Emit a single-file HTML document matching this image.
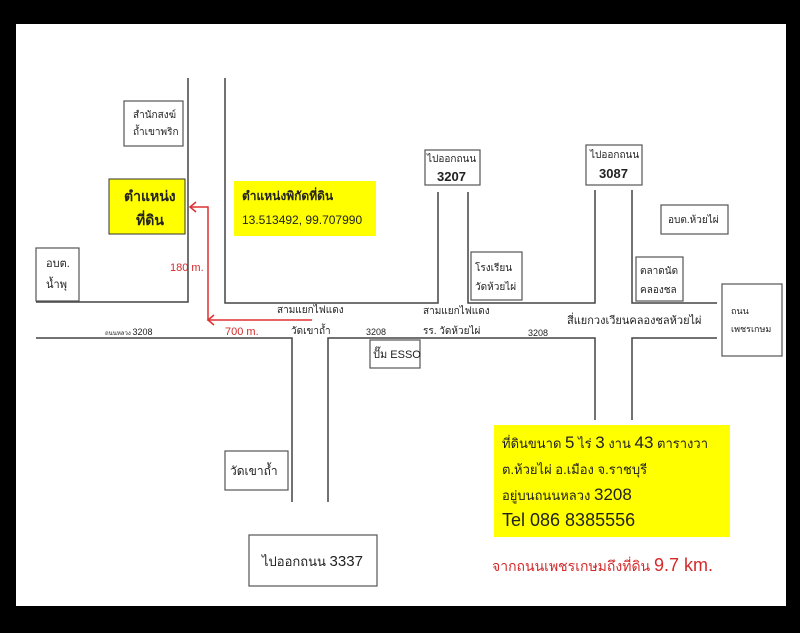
<!DOCTYPE html>
<html><head><meta charset="utf-8"><style>
body{margin:0;background:#000;}
svg{display:block;font-family:"Liberation Sans","Noto Sans CJK SC",sans-serif;}
</style></head><body>
<svg width="800" height="633" viewBox="0 0 800 633" xmlns="http://www.w3.org/2000/svg">
<rect x="0" y="0" width="800" height="633" fill="#000"/>
<rect x="16" y="24" width="770" height="582" fill="#fff"/>
<g stroke="#444" stroke-width="1.5" fill="none">
<polyline points="188,78 188,302 36,302"/>
<polyline points="225,78 225,303 438,303 438,192"/>
<polyline points="468,192 468,303 595,303 595,190"/>
<polyline points="632,190 632,303 717,303"/>
<polyline points="36,338 292,338 292,502"/>
<polyline points="328,502 328,338 595,338 595,420"/>
<polyline points="632,420 632,338 717,338"/>
</g>
<g stroke="#555" stroke-width="1.2" fill="#fff">
<rect x="124" y="101" width="59" height="45"/>
<rect x="36" y="248" width="43" height="53"/>
<rect x="425" y="150" width="55" height="35"/>
<rect x="586" y="145" width="56" height="40"/>
<rect x="661" y="205" width="67" height="29"/>
<rect x="471" y="252" width="51" height="48"/>
<rect x="636" y="257" width="47" height="44"/>
<rect x="722" y="284" width="60" height="72"/>
<rect x="370" y="340" width="50" height="28"/>
<rect x="225" y="451" width="63" height="39"/>
<rect x="249" y="535" width="128" height="51"/>
</g>
<rect x="109" y="179" width="76" height="55" fill="#ffff00" stroke="#333" stroke-width="1"/>
<rect x="234" y="181" width="142" height="55" fill="#ffff00"/>
<rect x="494" y="425" width="236" height="112" fill="#ffff00"/>
<g stroke="#e03030" stroke-width="1.5" fill="none">
<polyline points="312,320 208,320 208,207 190,207"/>
<polyline points="196,202 190,207 196,212"/>
<polyline points="214,315 208,320 214,325"/>
</g>
<g fill="#222" font-size="10">
<text x="133" y="118">สำนักสงฆ์</text>
<text x="133" y="135">ถ้ำเขาพริก</text>
<text x="46" y="267" font-size="11">อบต.</text>
<text x="46" y="288" font-size="11">น้ำพุ</text>
<text x="427" y="162">ไปออกถนน</text>
<text x="437" y="181" font-size="13" font-weight="bold">3207</text>
<text x="590" y="158">ไปออกถนน</text>
<text x="599" y="178" font-size="13" font-weight="bold">3087</text>
<text x="668" y="223">อบต.ห้วยไผ่</text>
<text x="475" y="271">โรงเรียน</text>
<text x="475" y="290">วัดห้วยไผ่</text>
<text x="640" y="274">ตลาดนัด</text>
<text x="640" y="293">คลองชล</text>
<text x="731" y="314" font-size="9">ถนน</text>
<text x="731" y="332" font-size="9">เพชรเกษม</text>
<text x="373" y="358" font-size="11">ปั๊ม ESSO</text>
<text x="230" y="475" font-size="12">วัดเขาถ้ำ</text>
<text x="262" y="566" font-size="13">ไปออกถนน <tspan font-size="15">3337</tspan></text>
<text x="277" y="313">สามแยกไฟแดง</text>
<text x="291" y="334">วัดเขาถ้ำ</text>
<text x="366" y="335" font-size="9">3208</text>
<text x="105" y="335" font-size="6">ถนนหลวง <tspan font-size="9">3208</tspan></text>
<text x="423" y="314">สามแยกไฟแดง</text>
<text x="423" y="334">รร. วัดห้วยไผ่</text>
<text x="528" y="336" font-size="9">3208</text>
<text x="567" y="324" font-size="11">สี่แยกวงเวียนคลองชลห้วยไผ่</text>
<text x="124" y="201" font-size="14" font-weight="bold">ตำแหน่ง</text>
<text x="136" y="225" font-size="14" font-weight="bold">ที่ดิน</text>
<text x="242" y="200" font-size="12" font-weight="bold">ตำแหน่งพิกัดที่ดิน</text>
<text x="242" y="224" font-size="12">13.513492, 99.707990</text>
<text x="502" y="448" font-size="13">ที่ดินขนาด <tspan font-size="17">5</tspan> ไร่ <tspan font-size="17">3</tspan> งาน <tspan font-size="17">43</tspan> ตารางวา</text>
<text x="502" y="474" font-size="13">ต.ห้วยไผ่  อ.เมือง จ.ราชบุรี</text>
<text x="502" y="500" font-size="13">อยู่บนถนนหลวง <tspan font-size="17">3208</tspan></text>
<text x="502" y="526" font-size="18">Tel 086 8385556</text>
</g>
<g fill="#d42a2a">
<text x="170" y="271" font-size="11">180 m.</text>
<text x="225" y="335" font-size="11">700 m.</text>
<text x="492" y="571" font-size="14">จากถนนเพชรเกษมถึงที่ดิน <tspan font-size="18">9.7 km.</tspan></text>
</g>
</svg>
</body></html>
